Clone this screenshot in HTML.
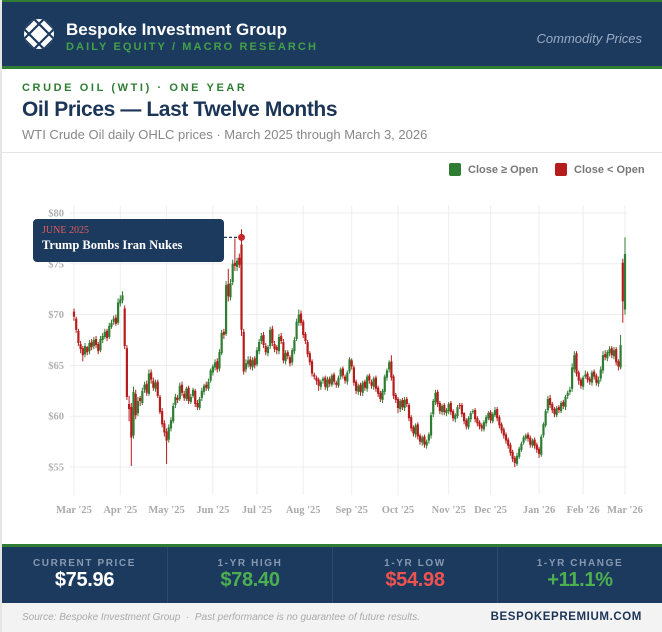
<!DOCTYPE html>
<html><head><meta charset="utf-8">
<style>
body{margin:0;width:662px;height:632px;background:#e6e6e6;font-family:"Liberation Sans",sans-serif;overflow:hidden;position:relative}
.abs{position:absolute}
#card{position:absolute;left:2px;top:0;width:660px;height:632px;background:#fff}
</style></head>
<body>
<div id="card">
 <div class="abs" style="left:0;top:0;width:660px;background:#1c3a5e;border-top:2px solid #2e7d32;border-bottom:3px solid #2e7d32;box-sizing:border-box;height:69px"></div>
 <svg class="abs" style="left:20px;top:17px" width="34" height="34" viewBox="0 0 34 34">
  <defs><clipPath id="lc"><circle cx="17" cy="17" r="15"/></clipPath></defs>
  <circle cx="17" cy="17" r="15" fill="#fff"/>
  <g clip-path="url(#lc)" stroke="#1c3a5e" stroke-width="2.2">
   <line x1="0" y1="10" x2="24" y2="34"/><line x1="0" y1="20" x2="14" y2="34"/><line x1="10" y1="0" x2="34" y2="24"/><line x1="20" y1="0" x2="34" y2="14"/>
   <line x1="34" y1="10" x2="10" y2="34"/><line x1="24" y1="0" x2="0" y2="24"/><line x1="34" y1="20" x2="20" y2="34"/><line x1="14" y1="0" x2="0" y2="14"/>
  </g>
 </svg>
 <div class="abs" style="left:64px;top:20px;color:#fff;font-weight:bold;font-size:17px">Bespoke Investment Group</div>
 <div class="abs" style="left:64px;top:41px;color:#43a047;font-weight:bold;font-size:11px;letter-spacing:2.1px">DAILY EQUITY / MACRO RESEARCH</div>
 <div class="abs" style="right:20px;top:31px;color:#9aabc4;font-style:italic;font-size:13px">Commodity Prices</div>

 <div class="abs" style="left:20px;top:82px;color:#2e7d32;font-weight:bold;font-size:11px;letter-spacing:2.6px">CRUDE OIL (WTI) · ONE YEAR</div>
 <div class="abs" style="left:20px;top:98px;color:#1c3557;font-weight:bold;font-size:21px;letter-spacing:-0.4px">Oil Prices — Last Twelve Months</div>
 <div class="abs" style="left:20px;top:127px;color:#888;font-size:13px">WTI Crude Oil daily OHLC prices · March 2025 through March 3, 2026</div>
 <div class="abs" style="left:0;top:152px;width:660px;height:1px;background:#e4e4e4"></div>

 <div class="abs" style="left:447px;top:163px;font-size:11px;font-weight:bold;color:#777"><span style="display:inline-block;width:12px;height:13px;background:#2e7d32;border-radius:2px;vertical-align:-3px;margin-right:7px"></span>Close ≥ Open</div>
 <div class="abs" style="left:553px;top:163px;font-size:11px;font-weight:bold;color:#777"><span style="display:inline-block;width:12px;height:13px;background:#b71c1c;border-radius:2px;vertical-align:-3px;margin-right:7px"></span>Close &lt; Open</div>

 <svg class="abs" id="chart" style="left:-2px;top:0" width="662" height="545"></svg>

 <div class="abs" style="left:0;top:544px;width:660px;height:59px;background:#1c3a5e;border-top:3px solid #2e7d32;box-sizing:border-box"></div>
 <div class="abs" style="left:0;top:603px;width:660px;height:29px;background:#f3f3f3"></div>
 <div class="abs" style="left:20px;top:612px;color:#aaa;font-style:italic;font-size:10px">Source: Bespoke Investment Group &nbsp;·&nbsp; Past performance is no guarantee of future results.</div>
 <div class="abs" style="right:20px;top:611px;color:#1c3557;font-weight:bold;font-size:11.5px;letter-spacing:0.6px">BESPOKEPREMIUM.COM</div>
</div>

<script>
const statLabels=["CURRENT PRICE","1-YR HIGH","1-YR LOW","1-YR CHANGE"];
const statValues=["$75.96","$78.40","$54.98","+11.1%"];
const statColors=["#ffffff","#4caf50","#ef5350","#4caf50"];
statLabels.forEach((l,i)=>{
  const d=document.createElement('div');
  d.className='abs';
  
  
  d.style.cssText=`left:${i*165}px;top:547px;width:165px;height:56px;text-align:center;${i?'border-left:1px solid #2d4a6e;':''}box-sizing:border-box`;
  d.innerHTML=`<div style="margin-top:11px;color:#8799b1;font-weight:bold;font-size:10px;letter-spacing:1.6px">${l}</div><div style="margin-top:0px;color:${statColors[i]};font-weight:bold;font-size:20px;letter-spacing:-0.3px">${statValues[i]}</div>`;
  document.getElementById('card').appendChild(d);
});
</script>

<script>
const opens=[70.3,69.6,68.4,67.1,66.7,66.1,66.8,66.4,67.3,66.9,
67.6,67.1,66.5,67.5,67.8,68.4,67.8,68.8,69.3,69.7,
69.2,71.1,71.4,70.6,66.7,61.2,60.9,58.1,62.2,60.3,
61.8,61.3,62.6,63.2,62.2,64.3,63.5,62.7,63.4,61.9,
60.5,59.3,58.5,57.7,58.8,59.5,61.1,61.8,61.7,63.1,
62.2,61.7,62.8,61.4,62.0,62.5,61.3,60.8,61.8,62.4,
63.1,62.7,63.5,64.3,64.8,65.4,64.7,66.2,68.3,68.1,
73.0,71.7,73.2,75.1,74.7,75.6,76.9,68.3,64.6,65.1,
65.6,64.8,65.7,65.1,66.4,67.4,68.0,66.9,66.2,66.9,
68.6,67.1,66.8,66.4,67.9,67.3,65.4,66.3,65.8,65.3,
66.4,67.6,69.2,70.1,69.3,68.1,67.3,66.2,65.4,64.1,
63.8,63.6,62.9,63.5,63.8,62.8,63.7,63.1,64.1,63.3,
63.0,63.9,64.7,63.9,63.4,64.4,65.5,64.8,63.4,62.4,
63.1,62.3,63.4,62.7,64.0,63.4,62.9,63.8,62.8,62.3,
61.6,62.4,63.8,64.6,65.4,63.9,62.1,61.7,60.7,61.6,
60.8,61.7,61.1,59.9,58.9,58.2,59.2,58.1,57.4,58.0,
57.1,57.6,58.1,60.2,61.4,62.4,61.3,60.4,61.1,60.3,
60.5,61.3,60.5,59.7,60.0,61.1,61.1,60.3,59.6,58.9,
59.7,60.4,60.6,59.8,59.4,59.1,58.7,59.3,59.8,60.4,
59.5,60.1,60.7,59.9,59.2,58.7,58.2,57.7,57.2,56.5,
55.9,55.3,56.0,56.7,57.4,57.8,58.2,57.9,57.1,57.7,
57.2,56.8,56.2,58.1,59.1,60.6,61.8,61.2,60.7,60.1,
60.9,60.5,61.4,60.9,62.0,62.4,62.7,64.6,66.2,64.3,
63.6,62.9,63.9,64.2,63.7,63.3,64.4,64.0,63.2,63.7,
64.5,66.1,65.7,66.2,66.7,65.9,66.6,65.4,64.8,75.1,
70.5];
const highs=[70.6,69.8,68.6,67.4,66.9,67.2,66.9,67.5,67.6,67.8,
67.9,67.3,67.9,68.2,68.6,68.6,69.2,69.5,69.9,70.0,
71.6,71.9,72.3,70.9,67.0,62.0,61.3,62.9,62.6,61.9,
62.0,62.8,63.4,63.5,64.6,64.6,63.8,63.6,63.6,62.1,
60.8,59.6,58.8,59.2,59.9,61.3,62.2,62.1,63.3,63.4,
62.5,62.9,63.0,62.2,62.8,62.7,61.6,61.9,62.8,63.2,
63.4,63.7,64.7,65.1,65.6,65.7,66.6,68.5,68.6,73.3,
74.5,73.5,75.4,77.5,75.6,76.0,78.4,68.6,65.6,65.9,
65.9,65.8,65.9,66.8,67.6,68.2,68.3,67.2,67.0,68.8,
68.9,67.4,67.0,68.1,68.2,67.6,66.5,66.5,66.0,66.7,
67.8,69.6,70.5,70.4,69.5,68.3,67.5,66.4,65.6,64.3,
64.0,63.8,63.6,63.9,64.0,63.9,63.9,64.2,64.3,63.5,
64.0,64.8,64.9,64.1,64.5,65.8,65.7,65.0,63.6,63.2,
63.3,63.5,63.6,64.1,64.2,63.6,63.9,64.0,63.0,62.5,
62.7,64.1,64.7,65.5,66.0,64.1,62.3,61.9,61.7,61.8,
61.9,61.9,61.3,60.1,59.1,59.3,59.4,58.3,58.1,58.2,
57.7,58.4,60.4,61.7,62.6,62.6,61.5,61.2,61.3,60.8,
61.4,61.5,60.7,60.3,61.1,61.3,61.3,60.4,59.8,60.0,
60.5,60.7,60.8,60.0,59.6,59.3,59.6,60.1,60.5,60.6,
60.4,60.9,60.9,60.1,59.4,58.9,58.4,57.9,57.4,56.7,
56.1,56.4,57.0,57.5,58.1,58.3,58.4,58.1,57.8,57.9,
57.4,57.0,58.2,59.4,60.7,62.0,62.1,61.4,60.9,61.0,
61.1,61.5,61.6,62.1,62.5,62.9,65.2,66.4,66.4,64.5,
63.8,64.0,64.5,64.4,63.9,64.5,64.6,64.2,63.9,64.9,
66.4,66.5,66.5,66.9,66.9,66.8,66.8,65.6,68.0,75.5,
77.6];
const lows=[69.4,68.2,66.9,66.2,65.4,65.8,66.0,66.1,66.5,66.6,
66.7,66.1,66.3,67.2,67.6,67.4,67.6,68.6,69.0,68.9,
69.0,70.8,71.1,66.6,61.6,59.5,55.1,57.8,59.7,60.0,
61.0,61.1,62.3,62.0,62.0,63.2,62.5,62.4,61.8,60.2,
58.9,58.0,55.3,57.4,58.5,59.3,60.8,61.3,61.5,62.0,
61.5,61.5,61.2,61.2,61.8,60.9,60.6,60.6,61.5,62.1,
62.5,62.5,63.3,64.0,64.5,64.3,64.4,66.0,67.6,67.9,
71.3,71.4,72.9,74.3,74.3,74.6,67.9,64.1,64.3,64.8,
64.6,64.5,64.7,64.9,66.1,67.1,66.7,66.0,65.9,66.6,
66.9,66.3,66.1,66.1,67.1,65.2,65.1,65.6,64.9,65.0,
66.1,67.4,68.9,68.9,67.7,67.1,65.8,65.0,63.9,63.6,
63.1,62.5,62.6,63.2,62.6,62.5,62.9,62.9,63.1,62.8,
62.8,63.6,63.7,63.2,63.1,64.2,64.6,63.0,62.2,62.1,
62.0,62.0,62.5,62.4,63.2,62.7,62.6,62.4,61.9,61.4,
61.3,62.1,63.5,64.3,63.5,61.7,61.3,60.3,60.4,60.6,
60.5,60.9,59.5,58.5,58.0,57.9,57.7,57.2,57.1,56.9,
56.8,57.3,57.8,59.9,61.1,60.9,60.2,60.1,60.1,60.0,
60.2,60.1,59.5,59.4,59.8,60.7,59.9,59.2,58.7,58.7,
59.4,60.2,59.4,59.0,58.7,58.5,58.5,59.0,59.6,59.3,
59.3,59.9,59.5,58.8,58.3,57.8,57.3,56.8,56.1,55.5,
54.98,55.1,55.8,56.5,57.2,57.6,57.5,56.9,56.9,56.8,
56.4,55.9,56.0,57.9,58.9,60.3,60.8,60.3,59.9,59.9,
60.3,60.3,60.7,60.6,61.7,62.1,62.4,64.3,63.9,63.1,
62.7,62.6,63.7,63.3,63.1,63.0,63.6,63.0,62.9,63.4,
64.2,65.5,65.4,65.9,65.7,65.6,65.0,64.5,64.6,69.2,
70.0];
const closes=[69.8,68.5,67.2,66.6,66.0,66.9,66.3,67.2,66.8,67.5,
67.0,66.4,67.6,67.9,68.3,67.7,68.9,69.2,69.6,69.1,
71.2,71.5,71.9,66.9,61.9,60.7,57.9,62.4,60.1,61.5,
61.5,62.5,63.1,62.3,64.2,63.6,62.8,63.3,62.0,60.4,
59.2,58.4,57.6,58.9,59.6,61.0,61.9,61.6,63.0,62.3,
61.8,62.7,61.5,61.9,62.6,61.2,60.9,61.7,62.5,63.0,
62.8,63.4,64.5,64.9,65.3,64.6,66.3,68.2,68.0,72.9,
71.8,73.1,75.0,74.8,75.3,74.9,68.5,64.4,65.2,65.5,
64.9,65.5,65.0,66.5,67.3,67.9,67.0,66.3,66.8,68.5,
67.2,66.6,66.5,67.8,67.4,65.5,66.2,65.9,65.2,66.5,
67.5,69.3,70.0,69.2,68.0,67.4,66.1,65.3,64.2,63.9,
63.5,63.0,63.4,63.7,62.9,63.6,63.2,64.0,63.4,63.1,
63.8,64.6,64.0,63.5,64.3,65.6,64.9,63.3,62.5,63.0,
62.4,63.3,62.8,63.9,63.5,63.0,63.7,62.7,62.2,61.7,
62.5,63.9,64.5,65.3,63.8,62.0,61.6,60.8,61.5,60.9,
61.6,61.2,59.8,58.8,58.3,59.1,58.0,57.5,57.9,57.2,
57.5,58.2,60.1,61.5,62.3,61.2,60.5,61.0,60.4,60.6,
61.2,60.4,59.8,60.1,60.9,61.0,60.2,59.5,59.0,59.8,
60.3,60.5,59.7,59.3,59.0,58.8,59.4,59.9,60.3,59.6,
60.2,60.6,59.8,59.1,58.6,58.1,57.6,57.1,56.4,55.8,
55.4,56.1,56.8,57.3,57.9,58.1,57.8,57.2,57.6,57.1,
56.7,56.3,58.0,59.2,60.5,61.7,61.1,60.6,60.2,60.8,
60.6,61.3,61.0,61.9,62.3,62.6,64.8,66.0,64.2,63.5,
63.0,63.8,64.1,63.6,63.4,64.3,63.9,63.3,63.6,64.6,
66.0,65.8,66.3,66.6,66.0,66.5,65.3,64.9,67.0,71.3,
75.96];
const yTicks=[55,60,65,70,75,80];
const monthLabels=["Mar '25","Apr '25","May '25","Jun '25","Jul '25","Aug '25","Sep '25","Oct '25","Nov '25","Dec '25","Jan '26","Feb '26","Mar '26"];
const monthIdx=[0,21,42,63,83,104,126,147,170,189,211,231,250];
const annIdx=[76];
const annPrice=[77.6];

const svg=document.getElementById('chart');
const NS='http://www.w3.org/2000/svg';
const X0=74,X1=625,PT=205,PB=495;
const N=closes.length;
const xs=i=>X0+i*(X1-X0)/(N-1);
const ys=p=>213+(80-p)*10.16;
function mk(tag,attrs,parent){const e=document.createElementNS(NS,tag);for(const k in attrs)e.setAttribute(k,attrs[k]);(parent||svg).appendChild(e);return e;}

const grid=mk('g',{});


yTicks.forEach(v=>{
  const l=mk('line',{x1:70,x2:627,y1:ys(v),y2:ys(v),stroke:'#eeeeee','stroke-width':1},grid);
  
  
  const t=mk('text',{x:64,y:ys(v)+3.5,'text-anchor':'end','font-family':'"Liberation Serif",serif','font-weight':'bold','font-size':'10.5',fill:'#b0b0b0'});
  t.textContent='$'+v;
  
  
});
monthIdx.forEach((ix,k)=>{
  const l=mk('line',{x1:xs(ix),x2:xs(ix),y1:PT,y2:PB,stroke:'#eeeeee','stroke-width':1},grid);
  
  
  const t=mk('text',{x:xs(ix),y:513,'text-anchor':'middle','font-family':'"Liberation Serif",serif','font-weight':'bold','font-size':'10.5',fill:'#aaa'});
  t.textContent=monthLabels[k];
  
  
});

const cg=mk('g',{});


for(let i=0;i<N;i++){
  const up=closes[i]>=opens[i];
  const col=up?'#2e7d32':'#b71c1c';
  const x=xs(i);
  const g=mk('g',{},cg);
  
  
  mk('line',{x1:x,x2:x,y1:ys(highs[i]),y2:ys(lows[i]),stroke:col,'stroke-width':1},g);
  const top=ys(Math.max(opens[i],closes[i])),bot=ys(Math.min(opens[i],closes[i]));
  mk('rect',{x:x-1.1,y:top,width:2.2,height:Math.max(1,bot-top),fill:col},g);
}

const ag=mk('g',{});


const ax=xs(annIdx[0]),ay=ys(annPrice[0]);
mk('line',{x1:224,y1:ay,x2:ax,y2:ay,stroke:'#1c3a5e','stroke-width':1.2,'stroke-dasharray':'3,2'},ag);
const dot=mk('circle',{cx:ax,cy:ay,r:3.5,fill:'#c62828'},ag);


const box=mk('rect',{x:33,y:219,width:191,height:43,rx:4,fill:'#1c3a5e'},ag);


const t1=mk('text',{x:42,y:233,'font-family':'"Liberation Serif",serif','font-size':'10',fill:'#e25c5c'},ag);
t1.textContent='JUNE 2025';


const t2=mk('text',{x:42,y:249,'font-family':'"Liberation Serif",serif','font-weight':'bold','font-size':'12.5',fill:'#fff'},ag);
t2.textContent='Trump Bombs Iran Nukes';


</script>
</body></html>
